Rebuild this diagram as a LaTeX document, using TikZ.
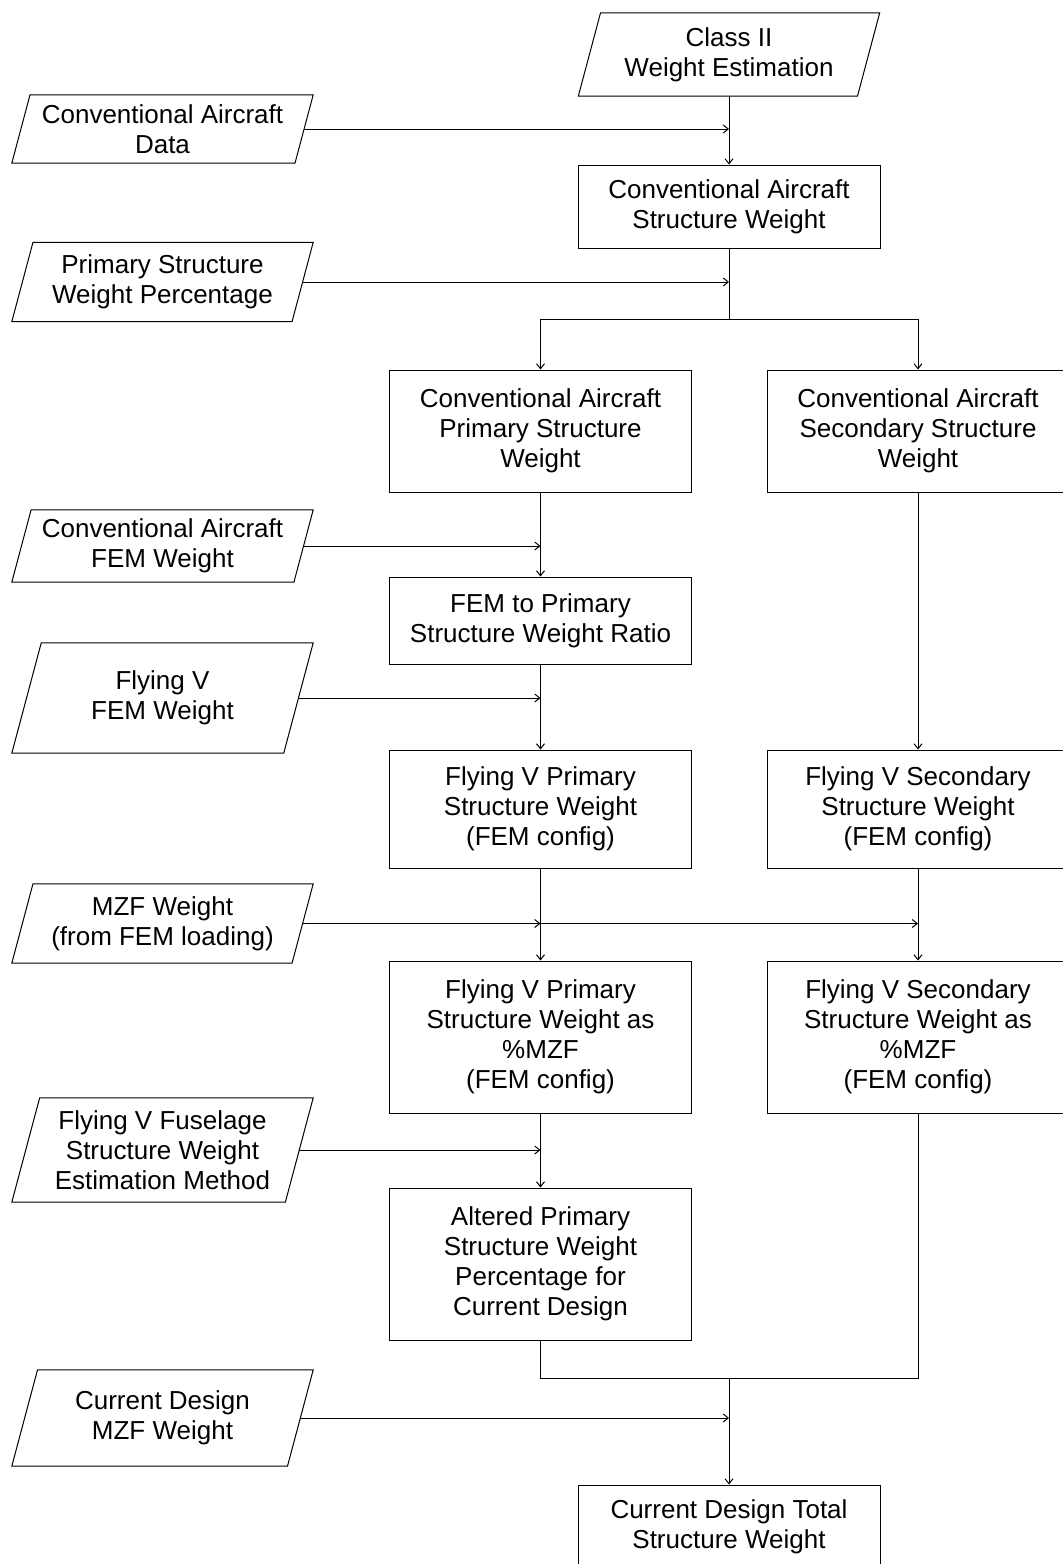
\documentclass[tikz,border=0pt]{standalone}
\usepackage{fontspec}
\setmainfont{Liberation Sans}
\usetikzlibrary{arrows.meta,calc}
\newcommand\ioBox[5]{%
  \pgfmathsetmacro\slnt{0.2679*#4}%
  \pgfmathsetmacro\hslnt{\slnt/2}%
  \pgfmathsetmacro\wdt{301-\slnt}%
  \node[iotext, minimum width=\wdt pt, minimum height=#4pt] (#1) at (#2,#3) {#5};
  \draw[lin] ($(#1.north west)+(\hslnt pt,0)$) -- ($(#1.north east)+(\hslnt pt,0)$) -- ($(#1.south east)-(\hslnt pt,0)$) -- ($(#1.south west)-(\hslnt pt,0)$) -- cycle;
}
\tikzset{
  lin/.style={draw=black, line width=1pt},
  arr/.style={lin, -{Straight Barb[length=5pt,width=8pt]}},
  txt/.style={align=center, inner sep=0pt, font=\fontsize{26}{30}\selectfont},
  proc/.style={txt, draw=black, line width=1pt, rectangle, minimum width=302pt},
  iotext/.style={txt, draw=none, rectangle},
}
\begin{document}
\begin{tikzpicture}[x=1pt,y=-1pt]
\useasboundingbox (0,0) rectangle (1063,1564);
\fill[white] (0,0) rectangle (1063,1564);

\ioBox{c2}{729}{54.5}{83}{Class II\\Weight Estimation}
\node[proc, minimum height=83pt] (casw) at (729,206.5) {Conventional Aircraft\\Structure Weight};
\ioBox{cad}{162.5}{129}{68}{Conventional Aircraft\\Data}
\ioBox{pswp}{162.5}{282}{79}{Primary Structure\\Weight Percentage}
\coordinate (split) at (729,319);
\node[proc, minimum height=122pt] (cap) at (540.5,431) {Conventional Aircraft\\Primary Structure\\Weight};
\node[proc, minimum height=122pt] (cas) at (918,431) {Conventional Aircraft\\Secondary Structure\\Weight};
\ioBox{cafem}{162.5}{546}{72}{Conventional Aircraft\\FEM Weight}
\node[proc, minimum height=87pt] (ratio) at (540.5,620.5) {FEM to Primary\\Structure Weight Ratio};
\ioBox{fvfem}{162.5}{698}{110}{Flying V\\FEM Weight}
\node[proc, minimum height=118pt] (fvp) at (540.5,809) {Flying V Primary\\Structure Weight\\(FEM config)};
\node[proc, minimum height=118pt] (fvs) at (918,809) {Flying V Secondary\\Structure Weight\\(FEM config)};
\ioBox{mzf}{162.5}{923.5}{79}{MZF Weight\\(from FEM loading)}
\node[proc, minimum height=152pt] (fvpm) at (540.5,1037) {Flying V Primary\\Structure Weight as\\\%MZF\\(FEM config)};
\node[proc, minimum height=152pt] (fvsm) at (918,1037) {Flying V Secondary\\Structure Weight as\\\%MZF\\(FEM config)};
\ioBox{fus}{162.5}{1150}{104}{Flying V Fuselage\\Structure Weight\\Estimation Method}
\node[proc, minimum height=152pt] (alt) at (540.5,1264) {Altered Primary\\Structure Weight\\Percentage for\\Current Design};
\coordinate (join) at (729,1378);
\ioBox{cdmzf}{162.5}{1418}{96}{Current Design\\MZF Weight}
\node[proc, minimum height=83pt] (total) at (729,1526.5) {Current Design Total\\Structure Weight};

\draw[arr] (c2) -- (casw);
\draw[arr] (cad.east) -- (cad.east -| casw.north);
\draw[lin] (casw.south) -- (split);
\draw[arr] (pswp.east) -- (pswp.east -| casw.south);
\draw[arr] (split) -| (cap.north);
\draw[arr] (split) -| (cas.north);
\draw[arr] (cap) -- (ratio);
\draw[arr] (cafem.east) -- (cafem.east -| cap.south);
\draw[arr] (ratio) -- (fvp);
\draw[arr] (fvfem.east) -- (fvfem.east -| ratio.south);
\draw[arr] (cas) -- (fvs);
\draw[arr] (fvp) -- (fvpm);
\draw[arr] (fvs) -- (fvsm);
\draw[arr] (mzf.east) -- (mzf.east -| fvp.south);
\draw[arr] (mzf.east) -- (mzf.east -| fvs.south);
\draw[arr] (fvpm) -- (alt);
\draw[arr] (fus.east) -- (fus.east -| fvpm.south);
\draw[lin] (alt.south) |- (join) -| (fvsm.south);
\draw[arr] (join) -- (total);
\draw[arr] (cdmzf.east) -- (cdmzf.east -| total.north);
\end{tikzpicture}
\end{document}
